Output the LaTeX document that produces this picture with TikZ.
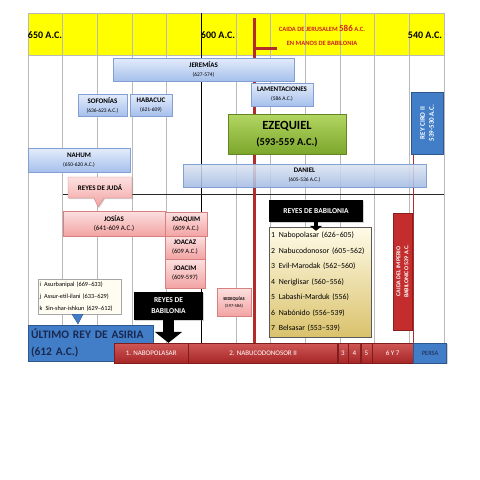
\documentclass[tikz,border=0pt]{standalone}
\usepackage{fontspec}
\setmainfont{Carlito}
\usetikzlibrary{arrows.meta,calc,shadows,shapes.callouts}
\definecolor{amarillo}{RGB}{255,255,0}
\definecolor{azulclaro}{RGB}{228,236,251}
\definecolor{azulmedio}{RGB}{166,192,236}
\definecolor{azulborde}{RGB}{132,160,210}
\definecolor{rosaclaro}{RGB}{252,224,224}
\definecolor{rosamedio}{RGB}{243,163,163}
\definecolor{rosaborde}{RGB}{214,128,128}
\definecolor{verdeclaro}{RGB}{178,214,98}
\definecolor{verdeoscuro}{RGB}{124,166,44}
\definecolor{rojobarra}{RGB}{196,45,45}
\definecolor{rojolinea}{RGB}{178,44,44}
\definecolor{rojotexto}{RGB}{205,35,35}
\definecolor{azulrey}{RGB}{66,126,200}
\definecolor{azultexto}{RGB}{25,40,80}
\definecolor{crema}{RGB}{255,251,232}
\definecolor{oro}{RGB}{218,194,108}
\newcommand{\tam}[2]{\fontsize{#1}{#2}\selectfont}
\begin{document}
\begin{tikzpicture}[x=1pt,y=-1pt,
    every node/.style={inner sep=0pt,align=center,font=\tam{7}{9}},
    rejilla/.style={draw=gray!55,line width=0.7pt},
    sombra/.style={drop shadow={shadow xshift=1pt,shadow yshift=-1.2pt,opacity=0.35}},
    profeta/.style={sombra,draw=azulborde,top color=azulclaro,bottom color=azulmedio},
    rey/.style={sombra,draw=rosaborde,top color=rosaclaro,bottom color=rosamedio},
    negro/.style={sombra,fill=black,text=white,font=\tam{7.5}{11}\bfseries},
    barra/.style={draw=rojobarra!65!black,top color=rojobarra!80!white,bottom color=rojobarra!85!black,
      text=white,minimum height=20,font=\tam{7}{9},anchor=west},
    anio/.style={font=\tam{10}{12}\bfseries},
    lineacaida/.style={draw=rojolinea,line width=3pt}]
  \fill[white] (0,0) rectangle (480,480);
  \useasboundingbox (0,0) rectangle (480,480);
  \fill[amarillo] (28,13) rectangle (444,55);
  \foreach \i in {0,...,12}
    \draw[rejilla] ({28+34.667*\i},13) -- ({28+34.667*\i},362);
  \draw[rejilla] (28,13) -- (444,13);
  \draw[rejilla] (28,55) -- (444,55);
  \draw[black,line width=1pt] (201.3,13) -- (201.3,362);
  \draw[gray!30!black,line width=1pt] (63,194) -- (444,194);

  \node[anio] (a650) at (45,35) {650 A.C.};
  \node[anio] (a600) at (218,35) {600 A.C.};
  \node[anio] (a540) at (425,35) {540 A.C.};
  \node[text=rojotexto,font=\tam{6.5}{14}\bfseries] (jerusalem) at (322,35)
    {CAIDA DE JERUSALEM {\tam{9}{14}586} A.C.\\EN MANOS DE BABILONIA};

  % caida de Jerusalem y de Babilonia
  \draw[lineacaida] (254,18) -- (254,343);
  \draw[lineacaida] (254,48) -- (277,48);
  \draw[rojolinea,line width=1pt] (413,155) -- (413,343);

  \node[profeta,minimum width=181,minimum height=23] (jeremias) at (203.5,69.5)
    {\textbf{JEREMÍAS}\\{\tam{5.5}{7}(627-574)}};
  \node[profeta,minimum width=49,minimum height=22] (sofonias) at (102.5,105)
    {\textbf{SOFONÍAS}\\{\tam{5.5}{7}(636-623 A.C.)}};
  \node[profeta,minimum width=42,minimum height=22] (habacuc) at (151,105)
    {\textbf{HABACUC}\\{\tam{5.5}{7}(621-609)}};
  \node[profeta,minimum width=62,minimum height=23] (lamentaciones) at (282,94.5)
    {\textbf{LAMENTACIONES}\\{\tam{5.5}{7}(586 A.C.)}};
  \node[sombra,draw=verdeoscuro!80!black,top color=verdeclaro,bottom color=verdeoscuro,
    minimum width=118,minimum height=40,font=\tam{12.5}{16}\bfseries] (ezequiel) at (287,134)
    {EZEQUIEL\\{\tam{10.5}{16}(593-559 A.C.)}};
  \node[profeta,minimum width=102,minimum height=24] (nahum) at (79,160)
    {\textbf{NAHUM}\\{\tam{5.5}{7}(650-620 A.C.)}};
  \node[profeta,fill opacity=0.8,text opacity=1,minimum width=243,minimum height=23] (daniel) at (304.5,175.5)
    {\textbf{DANIEL}\\{\tam{5.5}{7}(605-536 A.C.)}};
  \node[sombra,fill=azulrey,draw=azulrey!70!black,text=white,rotate=90,
    minimum width=62,minimum height=32,font=\tam{7}{9}\bfseries] (ciro) at (427,123)
    {REY CIRO II\\539-530 A.C.};

  \coordinate (judatip) at (98,207);
  \node[rey,rectangle callout,callout absolute pointer=(judatip),callout pointer width=10pt,
    minimum width=64,minimum height=21] (juda) at (100,187.5) {\textbf{REYES DE JUDÁ}};
  \node[rey,minimum width=102,minimum height=25] (josias) at (114,223.5)
    {\textbf{JOSÍAS}\\(641-609 A.C.)};
  \node[rey,minimum width=42,minimum height=24] (joaquim) at (186,224)
    {\textbf{JOAQUIM}\\{\tam{6.5}{9}(609 A.C.)}};
  \node[rey,minimum width=40,minimum height=23] (joacaz) at (185,247.5)
    {\textbf{JOACAZ}\\{\tam{6.5}{9}(609 A.C.)}};
  \node[rey,minimum width=40,minimum height=29] (joacim) at (185,273.5)
    {\textbf{JOACIM}\\{\tam{6.5}{10}(609-597)}};
  \node[rey,minimum width=34,minimum height=28,font=\tam{4.5}{7}] (sedequias) at (234,302)
    {\textbf{SEDEQUÍAS}\\(597-586)};

  \node[negro,minimum width=69,minimum height=28] (babizq) at (168.5,306) {REYES DE\\BABILONIA};
  \node[negro,minimum width=94,minimum height=22] (babder) at (316,211) {REYES DE BABILONIA};
  \node[sombra,draw=gray!70!black,top color=crema,bottom color=oro,minimum width=102,minimum height=110,
    text width=98,align=left,font=\tam{7.8}{15.5}] (listabab) at (320,282)
    {1\enspace Nabopolasar (626–605)\\
     2\enspace Nabucodonosor (605–562)\\
     3\enspace Evil-Marodak (562–560)\\
     4\enspace Neriglisar (560–556)\\
     5\enspace Labashi-Marduk (556)\\
     6\enspace Nabónido (556–539)\\
     7\enspace Belsasar (553–539)};
  \draw[black,line width=4pt,-{Triangle[width=12pt,length=5pt]}]
    (babder.south) -- ($(babder.south |- listabab.north)+(0,4)$);
  \node[sombra,fill=rojobarra,draw=rojobarra!70!black,text=white,rotate=90,
    minimum width=117,minimum height=19,font=\tam{6}{8}\bfseries] (caidaimperio) at (402.5,271.5)
    {CAIDA DEL IMPERIO\\BABILONICO 539 A.C.};

  \node[sombra,draw=gray!70,fill=crema!60!white,minimum width=83,minimum height=35,
    text width=80,align=left,font=\tam{6.3}{12}] (asiria) at (79.5,296.5)
    {i\enspace Asurbanipal (669–633)\\
     j\enspace Assur-etil-ilani (633–629)\\
     k\enspace Sin-shar-ishkun (629–612)};
  \coordinate (asiriatip) at (78,324);
  \filldraw[fill=azulrey,draw=azulrey!70!black] ($(asiria.south)+(-7.5,0)$) -- ($(asiria.south)+(3.5,0)$)
    -- (asiriatip) -- cycle;
  \node[sombra,fill=azulrey,draw=azulrey!70!black,minimum width=125,minimum height=36,
    text width=119,align=left,text=azultexto,font=\tam{11.5}{17}\bfseries] (ultimo) at (90.5,343)
    {ÚLTIMO REY DE ASIRIA\\(612 A.C.)};

  \node[barra,minimum width=74] (nabo) at (114,353) {1. NABOPOLASAR};
  \node[barra,minimum width=149] (nabuco) at (nabo.east) {2. NABUCODONOSOR II};
  \node[barra,minimum width=10] (tres) at (nabuco.east) {3};
  \node[barra,minimum width=12] (cuatro) at (tres.east) {4};
  \node[barra,minimum width=11] (cinco) at (cuatro.east) {5};
  \node[barra,minimum width=41] (seisiete) at (cinco.east) {6 Y 7};
  \node[sombra,fill=azulrey,draw=azulrey!70!black,text=azultexto,minimum width=33,minimum height=20,
    font=\tam{6.5}{8},anchor=west] (persa) at (seisiete.east) {PERSA};
  \draw[black,line width=11pt,-{Triangle[width=27pt,length=11pt]}]
    (babizq.south) -- (babizq.south |- nabo.north);
\end{tikzpicture}
\end{document}
